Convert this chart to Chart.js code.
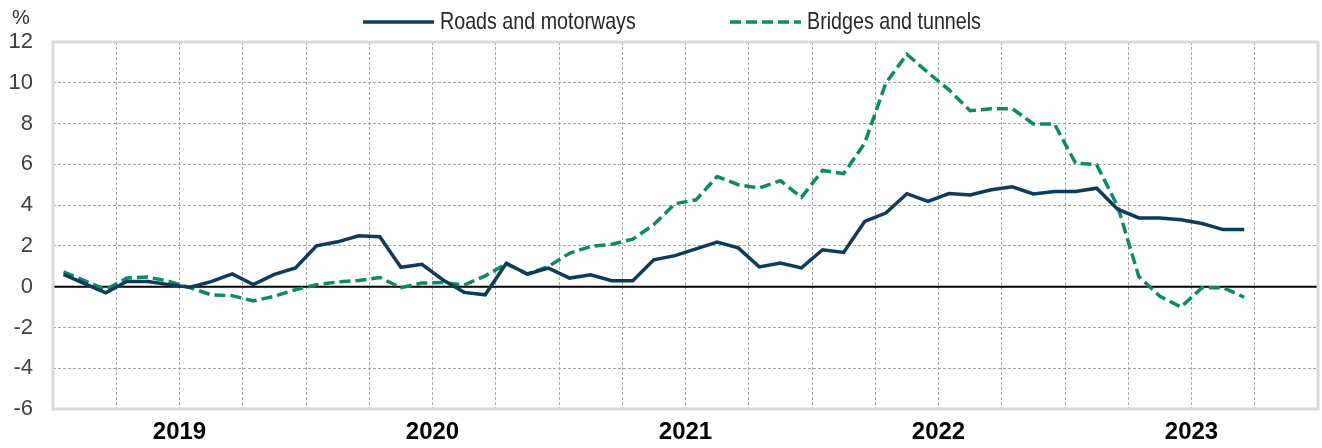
<!DOCTYPE html>
<html>
<head>
<meta charset="utf-8">
<script src="https://cdn.jsdelivr.net/npm/chart.js@4.4.0/dist/chart.umd.min.js"></script>
<style>
  html, body { margin: 0; padding: 0; background: #fff; }
  #wrap { width: 1322px; height: 448px; }
</style>
</head>
<body>
<div id="wrap"><canvas id="chart" width="1322" height="448"></canvas></div>
<script>
const years = ["2019", "2020", "2021", "2022", "2023"];
const months = ["01", "02", "03", "04", "05", "06", "07", "08", "09", "10", "11", "12"];

// monthly % change, Jan 2019 - Sep 2023
const roads = [0.6, 0.15, -0.3, 0.25, 0.25, 0.1, -0.03, 0.25, 0.63, 0.1, 0.6, 0.92,
    2.0, 2.2, 2.5, 2.45, 0.95, 1.1, 0.33, -0.28, -0.4, 1.15, 0.62, 0.91,
    0.42, 0.58, 0.29, 0.29, 1.32, 1.52, 1.85, 2.19, 1.9, 0.97, 1.16, 0.92,
    1.81, 1.68, 3.2, 3.61, 4.56, 4.18, 4.57, 4.5, 4.75, 4.9, 4.55, 4.67,
    4.67, 4.83, 3.8, 3.37, 3.37, 3.28, 3.1, 2.8, 2.8];
const bridges = [0.72, 0.3, -0.15, 0.42, 0.47, 0.26, -0.05, -0.4, -0.44, -0.7, -0.47, -0.15,
    0.1, 0.23, 0.3, 0.45, -0.05, 0.18, 0.2, 0.08, 0.53, 1.12, 0.62, 0.99,
    1.64, 1.97, 2.08, 2.33, 3.05, 4.07, 4.26, 5.4, 5.0, 4.84, 5.2, 4.38,
    5.7, 5.54, 7.04, 9.98, 11.4, 10.5, 9.65, 8.63, 8.73, 8.73, 7.98, 7.98,
    6.06, 5.98, 3.94, 0.5, -0.47, -1.0, -0.05, -0.05, -0.52];
const yTicks = [-6, -4, -2, 0, 2, 4, 6, 8, 10, 12];

const labels = [];
years.forEach(y => months.forEach(m => labels.push(y + "-" + m)));

const FONT = "'Liberation Sans', Arial, sans-serif";
const gridGray = "#a6a6a6";
const roadsColor = "#0d3b5c";
const bridgesColor = "#0b8a68";
const bridgesDash = [11, 5];

const framePlugin = {
    id: "frame",
    beforeDatasetsDraw(chart) {
        const { ctx, chartArea: a, scales } = chart;
        ctx.save();
        // zero line
        const y0 = scales.y.getPixelForValue(0);
        ctx.strokeStyle = "#000";
        ctx.lineWidth = 2;
        ctx.beginPath();
        ctx.moveTo(a.left, y0);
        ctx.lineTo(a.right, y0);
        ctx.stroke();
        // plot frame
        ctx.strokeStyle = "#d9d9d9";
        ctx.lineWidth = 3;
        ctx.strokeRect(a.left, a.top, a.right - a.left, a.bottom - a.top);
        // unit label
        ctx.fillStyle = "#333";
        ctx.font = "20px " + FONT;
        ctx.textAlign = "center";
        ctx.textBaseline = "middle";
        ctx.fillText("%", 21, 18);
        ctx.restore();
    },
    afterDraw(chart) {
        // legend drawn by hand so spacing matches the original
        const ctx = chart.ctx;
        const items = [
            { text: chart.data.datasets[0].label, color: roadsColor, dash: [], x0: 363 },
            { text: chart.data.datasets[1].label, color: bridgesColor, dash: bridgesDash, x0: 730 }
        ];
        const y = 22;
        items.forEach(it => {
            ctx.save();
            ctx.strokeStyle = it.color;
            ctx.lineWidth = 3.5;
            ctx.setLineDash(it.dash);
            ctx.beginPath();
            ctx.moveTo(it.x0, y);
            ctx.lineTo(it.x0 + 71, y);
            ctx.stroke();
            ctx.setLineDash([]);
            // narrow text
            ctx.translate(it.x0 + 77, y);
            ctx.scale(0.82, 1);
            ctx.fillStyle = "#262626";
            ctx.font = "24px " + FONT;
            ctx.textAlign = "left";
            ctx.textBaseline = "middle";
            ctx.fillText(it.text, 0, 0);
            ctx.restore();
        });
    }
};

new Chart(document.getElementById("chart"), {
    type: "line",
    data: {
        labels: labels,
        datasets: [{
            label: "Roads and motorways",
            data: roads,
            borderColor: roadsColor,
            backgroundColor: roadsColor,
            borderWidth: 3.5,
            pointRadius: 0,
            tension: 0
        }, {
            label: "Bridges and tunnels",
            data: bridges,
            borderColor: bridgesColor,
            backgroundColor: bridgesColor,
            borderWidth: 3.5,
            borderDash: bridgesDash,
            pointRadius: 0,
            tension: 0
        }]
    },
    options: {
        responsive: false,
        animation: false,
        layout: { padding: { top: 42, right: 4, bottom: 0, left: 0 } },
        plugins: {
            tooltip: { enabled: false },
            legend: { display: false }
        },
        scales: {
            x: {
                type: "category",
                offset: true,
                afterFit(s) { s.height = 0; },
                ticks: { display: false, autoSkip: false },
                grid: {
                    offset: true,
                    drawTicks: false,
                    color: c => (c.index % 3 === 0 && c.index > 0) ? gridGray : "rgba(0,0,0,0)",
                    lineWidth: 1
                },
                border: { display: false, dash: [3, 2] }
            },
            x2: {
                type: "category",
                labels: years,
                offset: true,
                position: "bottom",
                afterFit(s) { s.height = 39; },
                grid: { display: false, drawTicks: false },
                border: { display: false },
                ticks: {
                    padding: 9,
                    color: "#000",
                    font: { family: FONT, size: 24, weight: "bold" }
                }
            },
            y: {
                min: -6,
                max: 12,
                afterFit(s) { s.width = 53; },
                afterBuildTicks(s) { s.ticks = yTicks.map(v => ({ value: v })); },
                ticks: {
                    padding: 20,
                    color: "#404040",
                    font: { family: FONT, size: 22 }
                },
                grid: { color: gridGray, lineWidth: 1, drawTicks: false },
                border: { display: false, dash: [3, 2] }
            }
        }
    },
    plugins: [framePlugin]
});
</script>
</body>
</html>
